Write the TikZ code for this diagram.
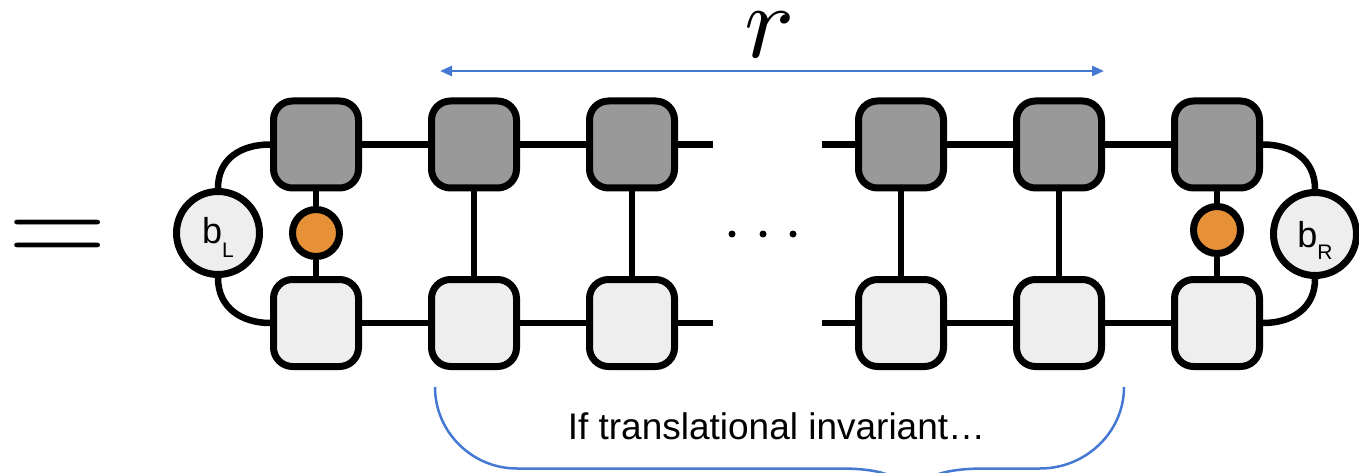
\documentclass[tikz,border=0pt]{standalone}
\usepackage{fontspec}
\setmainfont{Liberation Sans}
\usepackage{graphicx}
\usetikzlibrary{arrows.meta}

\definecolor{tensordark}{RGB}{153,153,153}
\definecolor{tensorlight}{RGB}{238,238,238}
\definecolor{gaugeorange}{RGB}{230,145,56}
\definecolor{markblue}{RGB}{68,120,210}

\begin{document}
\begin{tikzpicture}[x=1pt,y=-1pt,
  tensor/.style={draw, line width=7pt, rounded corners=19pt,
    minimum width=85pt, minimum height=87pt, inner sep=0pt},
  upper/.style={tensor, fill=tensordark},
  lower/.style={tensor, fill=tensorlight},
  boundary/.style={draw, circle, line width=7pt, fill=tensorlight,
    minimum size=83pt, inner sep=0pt},
  gauge/.style={draw, circle, line width=7pt, fill=gaugeorange,
    minimum size=47pt, inner sep=0pt},
  bond/.style={line width=6.5pt},
  dotmark/.style={circle, fill=black, minimum size=7pt, inner sep=0pt},
  measure/.style={markblue, line width=2.5pt},
]
\useasboundingbox (0,0) rectangle (1359,473);
\clip (0,0) rectangle (1359,473);

% equals sign
\node (eq) at (58,242) {\scalebox{12.9}[11.8]{$=$}};

% upper and lower rows of tensors
\foreach \i/\x in {1/316,2/474,3/632,4/901,5/1059,6/1217}{
  \node[upper] (T\i) at (\x,144.5) {};
  \node[lower] (B\i) at (\x,323) {};
}

% boundary vectors and gauge matrices
\node[boundary] (bL) at (218,233) {};
\node[boundary] (bR) at (1315,234) {};
\node[gauge] (O1) at (316,233) {};
\node[gauge] (O2) at (1217,230) {};
\node[anchor=base, inner sep=0pt] (bLtext) at (218,243)
  {\fontsize{36}{36}\selectfont b\raisebox{-14pt}{\fontsize{21}{21}\selectfont L}};
\node[anchor=base, inner sep=0pt] (bRtext) at (1315,247)
  {\fontsize{36}{36}\selectfont b\raisebox{-13pt}{\fontsize{21}{21}\selectfont R}};

% open ends around the ellipsis
\coordinate (T3end) at (713,144.5);
\coordinate (B3end) at (713,323);
\coordinate (T4end) at (822,144.5);
\coordinate (B4end) at (822,323);

% horizontal bonds
\draw[bond] (T1) -- (T2);
\draw[bond] (T2) -- (T3);
\draw[bond] (T3) -- (T3end);
\draw[bond] (T4end) -- (T4);
\draw[bond] (T4) -- (T5);
\draw[bond] (T5) -- (T6);
\draw[bond] (B1) -- (B2);
\draw[bond] (B2) -- (B3);
\draw[bond] (B3) -- (B3end);
\draw[bond] (B4end) -- (B4);
\draw[bond] (B4) -- (B5);
\draw[bond] (B5) -- (B6);

% vertical bonds
\draw[bond] (T1) -- (O1);
\draw[bond] (O1) -- (B1);
\draw[bond] (T6) -- (O2);
\draw[bond] (O2) -- (B6);
\foreach \i in {2,3,4,5}{ \draw[bond] (T\i) -- (B\i); }

% boundary arcs
\draw[bond] (bL.north) .. controls +(0,-30) and +(-28,0) .. (T1.west);
\draw[bond] (bL.south) .. controls +(0,30) and +(-28,0) .. (B1.west);
\draw[bond] (bR.north) .. controls +(0,-30) and +(28,0) .. (T6.east);
\draw[bond] (bR.south) .. controls +(0,30) and +(28,0) .. (B6.east);

% ellipsis
\node[dotmark] (dot1) at (732,234) {};
\node[dotmark] (dot2) at (763,234) {};
\node[dotmark] (dot3) at (793,234) {};

% distance arrow
\coordinate (rL) at (440,71);
\coordinate (rR) at (1104,71);
\draw[measure, {Triangle[length=12pt,width=10pt]}-{Triangle[length=12pt,width=10pt]}] (rL) -- (rR);
\node[inner sep=0pt] (rlab) at (770,35) {\scalebox{10.5}{$r$}};

% brace under the chain
\coordinate (brL) at (435,387);
\coordinate (brR) at (1124,387);
\coordinate (brTip) at (912,500);
\draw[measure] (brL) .. controls (435,432) and (472,468.5) .. (517,468.5)
  -- (840,468.5) .. controls (885,468.5) and (908,478) .. (brTip)
  .. controls (916,478) and (940,468.5) .. (985,468.5)
  -- (1040,468.5) .. controls (1086,468.5) and (1124,432) .. (brR);
\node[anchor=base] (note) at (776.5,439)
  {\fontsize{37}{37}\selectfont If translational invariant…};
\end{tikzpicture}
\end{document}
